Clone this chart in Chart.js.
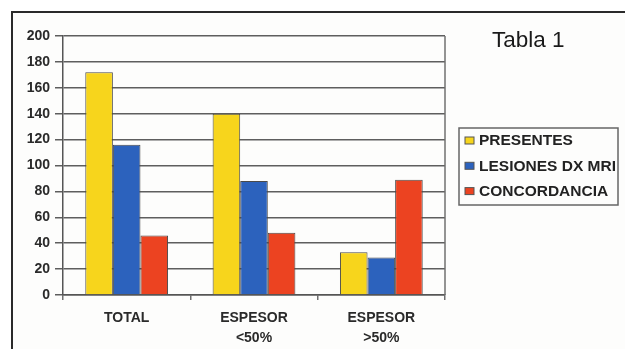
<!DOCTYPE html>
<html>
<head>
<meta charset="utf-8">
<script src="https://cdn.jsdelivr.net/npm/chart.js@4.4.1/dist/chart.umd.min.js"></script>
<style>
  html, body { margin: 0; padding: 0; background: #ffffff; }
  #wrap { width: 625px; height: 349px; position: relative; }
</style>
</head>
<body>
<div id="wrap"><canvas id="c" width="625" height="349"></canvas></div>
<script>
const categories = [["TOTAL"], ["ESPESOR", "<50%"], ["ESPESOR", ">50%"]];
const presentes = [172, 140, 33];
const lesionesDxMri = [116, 88, 29];
const concordancia = [46, 48, 89];
const seriesNames = ["PRESENTES", "LESIONES DX MRI", "CONCORDANCIA"];
const seriesColors = ["#f7d51c", "#2c62bd", "#ec4321"];
const yTicks = { min: 0, max: 200, step: 20 };
const titleText = "Tabla 1";

const FONT = "'Liberation Sans', Arial, sans-serif";

// Frame, plot border, title and boxed legend
const decorations = {
  id: "decorations",
  beforeDraw(chart) {
    const ctx = chart.ctx;
    ctx.save();
    ctx.fillStyle = "#fdfdfc";
    ctx.fillRect(12, 12, chart.width - 12, chart.height - 12);
    ctx.strokeStyle = "#2a2a2a";
    ctx.lineWidth = 2;
    ctx.beginPath();
    ctx.moveTo(12, chart.height);
    ctx.lineTo(12, 12);
    ctx.lineTo(chart.width, 12);
    ctx.stroke();
    ctx.restore();
  },
  afterDraw(chart) {
    const ctx = chart.ctx;
    const a = chart.chartArea;
    ctx.save();
    // right edge of the plot
    ctx.strokeStyle = "#707070";
    ctx.lineWidth = 1.5;
    ctx.beginPath();
    ctx.moveTo(a.right, a.top);
    ctx.lineTo(a.right, a.bottom);
    ctx.stroke();

    // title
    ctx.fillStyle = "#1a1a1a";
    ctx.font = "22.5px " + FONT;
    ctx.textBaseline = "middle";
    ctx.textAlign = "left";
    ctx.fillText(titleText, 492, 41);

    // legend box
    const bx = 459, by = 128, bw = 159, bh = 77;
    ctx.strokeStyle = "#666666";
    ctx.lineWidth = 1.5;
    ctx.strokeRect(bx, by, bw, bh);
    ctx.beginPath();
    ctx.rect(bx, by, bw - 1, bh);
    ctx.clip();
    ctx.font = "bold 15.5px " + FONT;
    chart.data.datasets.forEach((ds, i) => {
      const y = 140.5 + i * 25.3;
      ctx.fillStyle = ds.backgroundColor;
      ctx.fillRect(465, y - 3.5, 9, 7);
      ctx.strokeStyle = "#555555";
      ctx.lineWidth = 1;
      ctx.strokeRect(465, y - 3.5, 9, 7);
      ctx.fillStyle = "#222222";
      ctx.fillText(ds.label, 479, y + 0.5);
    });
    ctx.restore();
  }
};

new Chart(document.getElementById("c"), {
  type: "bar",
  data: {
    labels: categories,
    datasets: [presentes, lesionesDxMri, concordancia].map((vals, i) => ({
      label: seriesNames[i],
      data: vals,
      backgroundColor: seriesColors[i],
      borderColor: "#4a4a4a",
      borderWidth: 1,
      categoryPercentage: 0.65,
      barPercentage: 1.0
    }))
  },
  options: {
    responsive: false,
    animation: false,
    devicePixelRatio: 1,
    layout: { padding: { left: 0, top: 36, right: 180, bottom: 0 } },
    plugins: {
      legend: { display: false },
      tooltip: { enabled: false },
      title: { display: false }
    },
    scales: {
      x: {
        offset: true,
        afterFit(scale) { scale.height = 54; },
        grid: {
          offset: true,
          drawOnChartArea: false,
          drawTicks: true,
          tickLength: 5,
          color: "#707070",
          lineWidth: 1.5
        },
        border: { color: "#555555", width: 1.5 },
        ticks: {
          color: "#2a2a2a",
          font: { family: FONT, size: 14, weight: "bold", lineHeight: 1.45 },
          padding: 8,
          maxRotation: 0
        }
      },
      y: {
        min: yTicks.min,
        max: yTicks.max,
        afterFit(scale) { scale.width = 63; },
        grid: {
          color: "#5e5e5e",
          lineWidth: 1.5,
          drawTicks: true,
          tickLength: 8,
          tickColor: "#5e5e5e"
        },
        border: { color: "#555555", width: 1.5 },
        ticks: {
          stepSize: yTicks.step,
          color: "#2a2a2a",
          font: { family: FONT, size: 14, weight: "bold" },
          padding: 5
        }
      }
    }
  },
  plugins: [decorations]
});
</script>
</body>
</html>
